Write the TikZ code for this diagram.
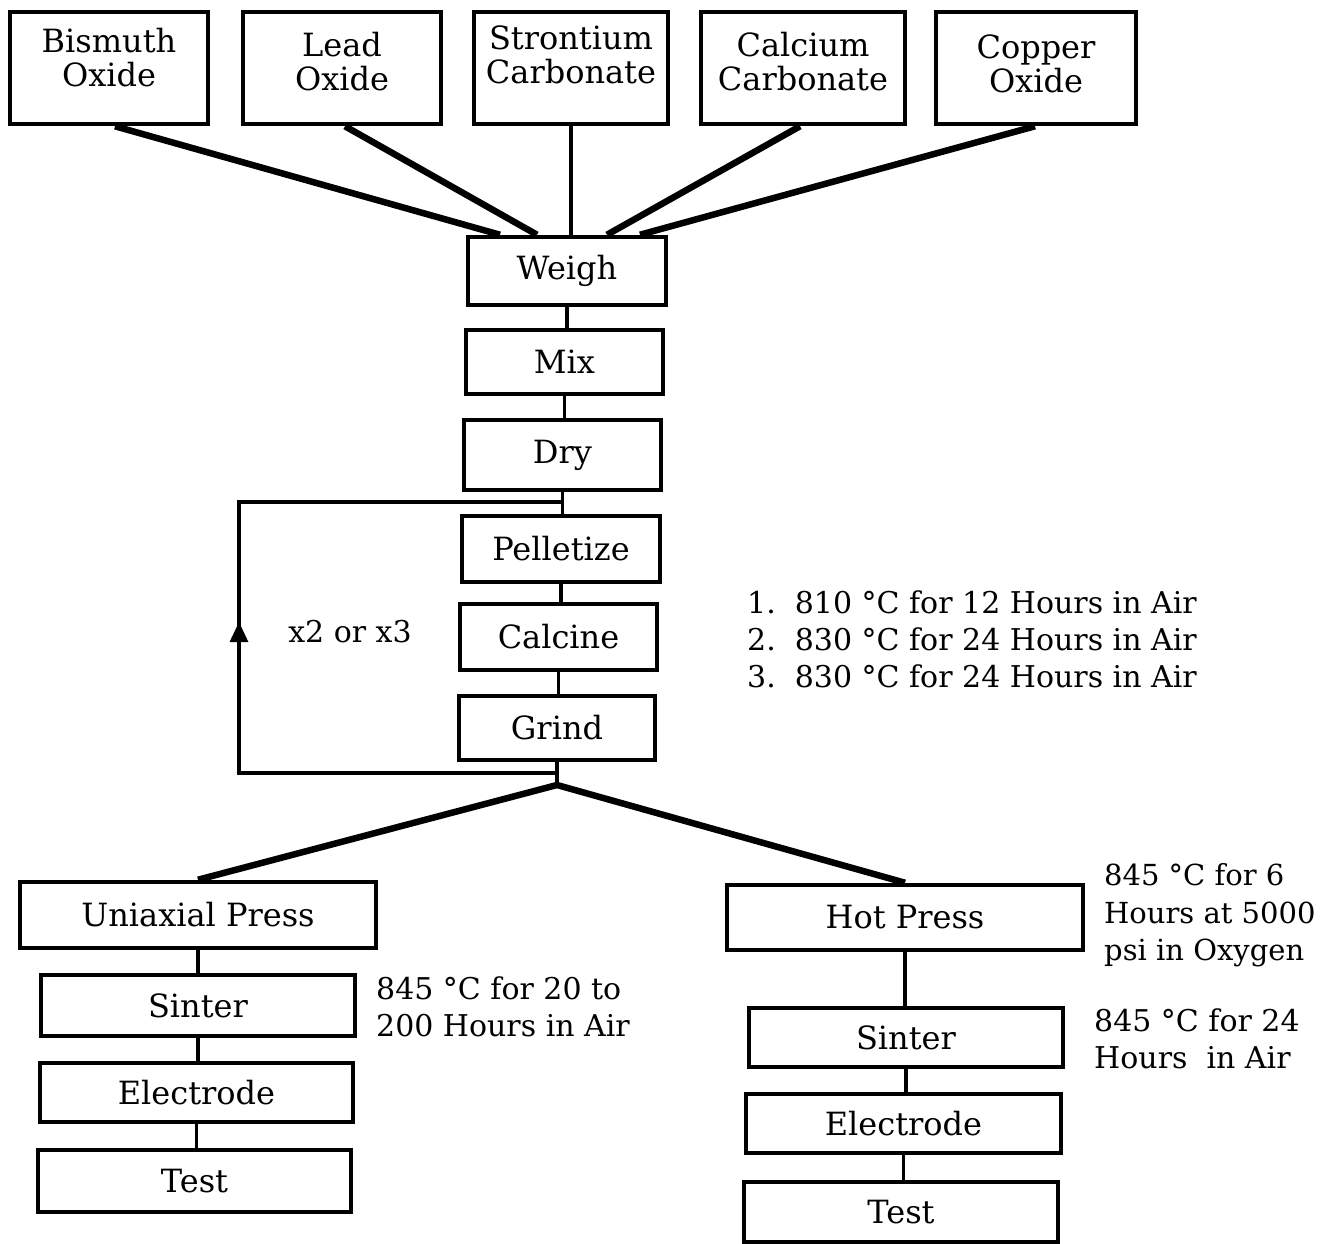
\documentclass[tikz,border=0pt]{standalone}
\usepackage{fontspec}
\setmainfont{DejaVu Serif}
\usetikzlibrary{arrows.meta}
\begin{document}
\begin{tikzpicture}[x=1pt,y=-1pt,
  box/.style={draw, line width=4.5pt, inner sep=0pt, font=\fontsize{32}{34}\selectfont},
  lbl/.style={inner sep=0pt, align=center, font=\fontsize{32}{34}\selectfont},
  note/.style={inner sep=0pt, align=left, anchor=west, font=\fontsize{30}{37}\selectfont},
  thick line/.style={line width=6.5pt},
  thin line/.style={line width=3.5pt},
  loop line/.style={line width=4.5pt}]
\useasboundingbox (0,0) rectangle (1326,1243);
% top boxes
\node[box, minimum width=198pt, minimum height=112pt] (bi) at (109,68) {};
\node[box, minimum width=198pt, minimum height=112pt] (le) at (342,68) {};
\node[box, minimum width=194pt, minimum height=112pt] (st) at (571,68) {};
\node[box, minimum width=204pt, minimum height=112pt] (ca) at (803,68) {};
\node[box, minimum width=200pt, minimum height=112pt] (cu) at (1036,68) {};
\node[lbl] (bit) at ([yshift=10pt]bi.center) {Bismuth\\Oxide};
\node[lbl] (let) at ([yshift=6pt]le.center) {Lead\\Oxide};
\node[lbl] (stt) at ([yshift=13pt]st.center) {Strontium\\Carbonate};
\node[lbl] (cat) at ([yshift=6pt]ca.center) {Calcium\\Carbonate};
\node[lbl] (cut) at ([yshift=4pt]cu.center) {Copper\\Oxide};
% main column
\node[box, minimum width=198pt, minimum height=68pt] (we) at (567,271) {Weigh};
\node[box, minimum width=197pt, minimum height=64pt] (mi) at (564.5,362) {Mix};
\node[box, minimum width=197pt, minimum height=70pt] (dr) at (562.5,455) {Dry};
\node[box, minimum width=198pt, minimum height=66pt] (pe) at (561,549) {Pelletize};
\node[box, minimum width=197pt, minimum height=66pt] (cl) at (558.5,637) {Calcine};
\node[box, minimum width=196pt, minimum height=64pt] (gr) at (557,728) {Grind};
% left branch
\node[box, minimum width=356pt, minimum height=66pt] (up) at (198,915) {Uniaxial Press};
\node[box, minimum width=314pt, minimum height=61pt] (sl) at (198,1005.5) {Sinter};
\node[box, minimum width=313pt, minimum height=59pt] (el) at (196.5,1092.5) {Electrode};
\node[box, minimum width=313pt, minimum height=62pt] (tl) at (194.5,1181) {Test};
% right branch
\node[box, minimum width=356pt, minimum height=65pt] (hp) at (905,917.5) {Hot Press};
\node[box, minimum width=314pt, minimum height=59pt] (sr) at (906,1037.5) {Sinter};
\node[box, minimum width=315pt, minimum height=59pt] (er) at (903.5,1123.5) {Electrode};
\node[box, minimum width=314pt, minimum height=60pt] (tr) at (901,1212) {Test};
% notes
\node[note] (n1) at (747,639.5) {1.\ \ 810 °C for 12 Hours in Air\\2.\ \ 830 °C for 24 Hours in Air\\3.\ \ 830 °C for 24 Hours in Air};
\node[note] (n2) at (376,1007) {845 °C for 20 to\\200 Hours in Air};
\node[note, font=\fontsize{29}{37.5}\selectfont] (n3) at (1104,915.5) {845 °C for 6\\Hours at 5000\\psi in Oxygen};
\node[note] (n4) at (1094,1039) {845 °C for 24\\Hours\ \ in Air};
\node[inner sep=0pt, font=\fontsize{30}{34}\selectfont] (rep) at (350,632) {x2 or x3};
% top connectors
\draw[thick line] ([xshift=6pt]bi.south) -- ([xshift=-67pt]we.north);
\draw[thick line] ([xshift=3pt]le.south) -- ([xshift=-30pt]we.north);
\draw[thin line] (st.south) -- (st.south |- we.north);
\draw[thick line] ([xshift=-3pt]ca.south) -- ([xshift=40pt]we.north);
\draw[thick line] ([xshift=-1pt]cu.south) -- ([xshift=73pt]we.north);
% column connectors
\draw[thin line] (we.south) -- (we.south |- mi.north);
\draw[thin line] (mi.south) -- (mi.south |- dr.north);
\draw[thin line] (dr.south) -- (dr.south |- pe.north);
\draw[thin line] (pe.south) -- (pe.south |- cl.north);
\draw[thin line] (cl.south) -- (cl.south |- gr.north);
\coordinate (sp) at (557,785);
\coordinate (lj) at (557,773);
\coordinate (lc) at (239,773);
\coordinate (tc) at (239,502);
\coordinate (tj) at (563,502);
\draw[thin line] (gr.south) -- (sp);
% loop
\draw[loop line] (lj) -- (lc) -- (tc) -- (tj);
\draw[line width=3pt, -{Triangle[length=20pt,width=18pt]}] (lc) -- (239,622);
% split
\draw[thick line, line join=miter] (up.north) -- (sp) -- (hp.north);
% branch connectors
\draw[thin line] (up.south) -- (up.south |- sl.north);
\draw[thin line] (sl.south) -- (sl.south |- el.north);
\draw[thin line] (el.south) -- (el.south |- tl.north);
\draw[thin line] (hp.south) -- (hp.south |- sr.north);
\draw[thin line] (sr.south) -- (sr.south |- er.north);
\draw[thin line] (er.south) -- (er.south |- tr.north);
\end{tikzpicture}
\end{document}
